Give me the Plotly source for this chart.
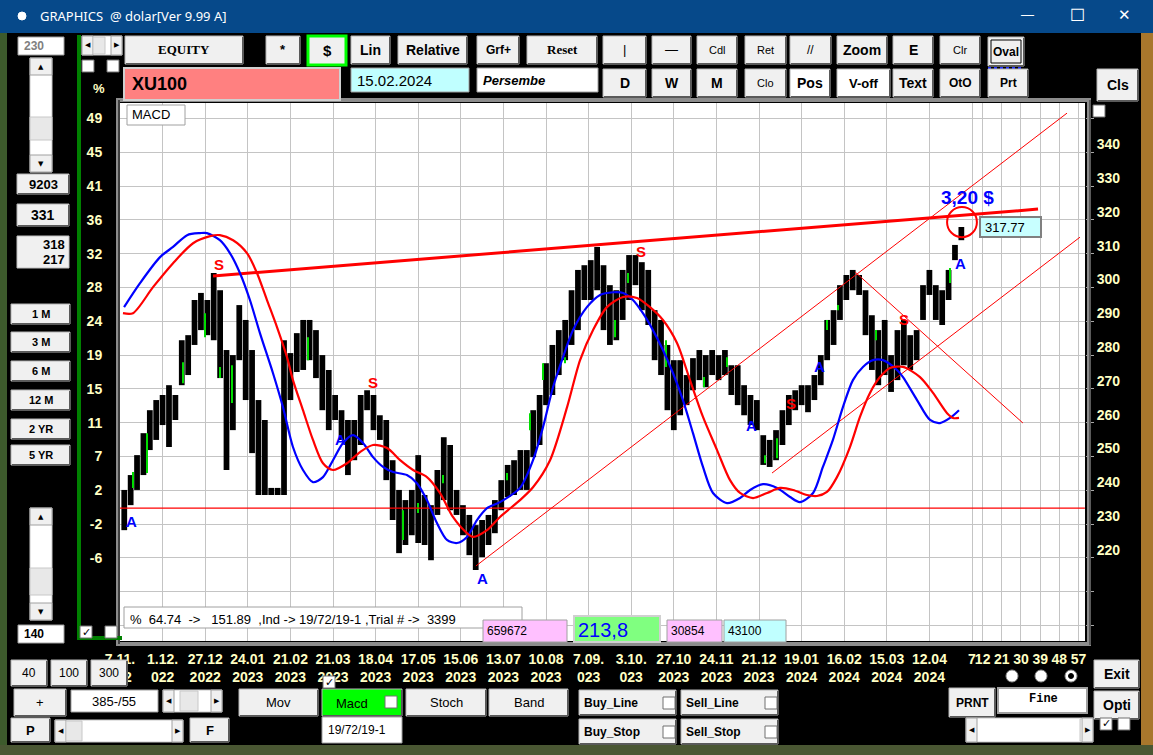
import plotly.graph_objects as go

# ---------------- data ----------------
# sampled price bars (every 3rd trading bar), high / low in index points
bar_high = [240.1, 244.5, 250.4, 256.9, 263.7, 266.7, 268.2, 271.1, 268.2, 284.4,
            285.9, 296.3, 298.4, 296.3, 304.3, 299.2, 281.5, 280.0, 294.8, 290.4,
            281.5, 266.7, 260.8, 240.7, 240.7, 284.4, 280.6, 286.5, 290.4, 290.4,
            287.4, 280.0, 275.6, 268.2, 263.7, 260.8, 260.8, 268.2, 269.6, 268.2,
            262.2, 260.8, 248.9, 240.1, 237.1, 240.1, 250.4, 238.6, 235.6, 246.0,
            255.7, 253.4, 240.1, 235.6, 232.7, 229.7, 231.2, 232.7, 237.1, 243.0,
            247.5, 248.9, 251.9, 251.9, 263.7, 268.2, 277.6, 283.0, 287.4, 290.4,
            299.2, 305.2, 306.6, 308.1, 312.0, 306.6, 300.7, 299.2, 305.2, 309.6,
            309.6, 307.5, 305.2, 293.3, 290.4, 283.0, 278.5, 278.5, 274.1, 279.1,
            281.5, 280.0, 281.5, 280.0, 281.5, 277.0, 277.0, 271.1, 268.2, 266.7,
            256.3, 254.9, 257.8, 263.7, 268.2, 269.6, 271.1, 271.1, 274.1, 280.0,
            290.4, 293.3, 300.7, 303.7, 305.2, 303.7, 299.2, 291.8, 287.4, 290.4,
            280.0, 287.4, 290.4, 285.9, 287.4, 300.7, 305.2, 300.7, 299.2, 305.2,
            312.6, 317.9]
bar_low = [228.2, 235.6, 240.1, 244.5, 251.9, 254.9, 259.3, 252.8, 260.8, 271.1,
           274.1, 283.0, 287.4, 285.9, 284.4, 273.2, 246.0, 257.8, 278.5, 266.7,
           251.0, 238.6, 238.6, 238.6, 238.6, 238.6, 266.7, 275.0, 275.6, 278.5,
           273.2, 263.7, 257.8, 260.8, 254.9, 244.5, 248.9, 253.4, 263.7, 257.8,
           254.9, 243.0, 231.2, 221.4, 223.8, 226.7, 224.4, 223.8, 219.3, 232.7,
           237.1, 234.1, 232.7, 226.7, 220.8, 216.4, 220.2, 223.8, 227.3, 234.1,
           238.0, 238.6, 240.1, 240.1, 249.8, 253.4, 265.2, 268.2, 274.1, 278.5,
           283.0, 287.4, 296.3, 296.3, 299.2, 287.4, 283.0, 284.4, 290.4, 296.3,
           300.7, 293.3, 288.9, 278.5, 274.1, 263.7, 257.8, 262.2, 265.2, 269.6,
           272.6, 270.5, 274.1, 272.6, 274.1, 268.2, 265.2, 262.2, 259.3, 257.8,
           247.5, 246.9, 248.9, 253.4, 259.3, 263.7, 265.2, 263.1, 266.7, 271.1,
           278.5, 283.0, 290.4, 296.3, 299.2, 297.8, 285.9, 275.6, 271.1, 274.1,
           269.1, 272.6, 277.0, 275.6, 278.5, 290.4, 297.8, 290.4, 288.9, 296.3,
           308.1, 314.0]
bar_index = [2 + 3 * k for k in range(len(bar_high))]

green_x = [6.1, 12.7, 29.6, 39.9, 46.9, 52.6, 88.3, 132.9, 139.9, 151.6, 181.7, 192.5,
           198.6, 208.9, 232.4, 238.5, 256.3, 274.2, 285.0, 302.8, 308.5, 331.9, 337.1,
           354.9, 389.7]
green_high = [245.4, 256.9, 277.9, 292.4, 276.5, 277.0, 285.3, 234.1, 236.2, 244.5, 245.1,
              262.8, 277.6, 279.4, 290.4, 304.3, 284.4, 273.5, 279.4, 250.4, 255.4, 290.4,
              294.8, 287.4, 305.8]
green_low = [240.7, 245.1, 271.7, 285.3, 273.2, 265.8, 278.5, 225.3, 233.3, 242.1, 243.0,
             257.8, 272.6, 277.6, 285.3, 301.3, 276.5, 270.5, 276.5, 248.0, 249.5, 287.4,
             293.3, 284.4, 301.3]

macd_x = [1.9, 9.4, 18.8, 24.9, 31.5, 37.6, 40.8, 46.9, 51.6, 56.3, 61.0, 65.7, 71.8, 76.5,
          81.2, 85.9, 90.6, 95.3, 100.0, 104.7, 109.4, 114.1, 118.8, 123.5, 128.2, 134.7,
          139.4, 144.1, 148.8, 153.5, 158.2, 162.9, 167.6, 172.3, 178.4, 187.8, 193.9,
          198.6, 203.3, 208.0, 212.7, 219.2, 225.4, 231.5, 236.2, 240.8, 245.5, 250.2,
          254.9, 259.6, 264.3, 269.0, 273.7, 278.4, 285.0, 291.1, 295.8, 301.9, 308.5,
          314.6, 319.2, 325.4, 330.0, 334.7, 339.4, 344.1, 348.8, 353.5, 358.2, 364.8,
          367.6, 374.2, 380.3, 385.0, 389.7, 393.9]
macd_y = [294.2, 301.3, 309.0, 312.0, 315.5, 316.1, 316.1, 314.0, 310.2, 304.3, 296.3,
          286.5, 274.7, 264.6, 252.8, 246.0, 242.4, 243.9, 248.9, 254.0, 256.3, 254.0,
          249.8, 246.9, 245.4, 244.5, 242.1, 237.1, 230.3, 225.3, 224.4, 226.2, 231.2,
          234.7, 236.5, 240.7, 248.9, 258.7, 270.5, 279.4, 287.4, 294.2, 297.8, 298.6,
          298.4, 296.3, 292.4, 287.4, 281.5, 274.7, 266.7, 256.9, 246.9, 239.2, 236.2,
          237.7, 240.1, 241.8, 240.7, 238.0, 236.5, 239.2, 246.9, 254.9, 264.6, 272.6,
          276.5, 278.5, 278.5, 275.6, 273.5, 266.7, 260.8, 259.9, 261.4, 263.7]

signal_x = [1.4, 6.1, 15.5, 24.9, 34.3, 42.3, 46.9, 53.1, 59.6, 64.3, 69.0, 73.7, 78.4,
            81.2, 85.9, 90.6, 95.3, 100.0, 106.6, 112.7, 118.8, 125.4, 131.5, 137.6,
            144.1, 150.2, 156.3, 162.9, 165.7, 172.3, 178.4, 187.8, 193.9, 201.9, 209.9,
            216.0, 222.1, 228.6, 236.2, 242.7, 248.8, 254.9, 261.5, 267.6, 273.7, 280.3,
            286.4, 291.1, 297.2, 303.8, 309.9, 316.0, 322.5, 327.2, 331.9, 336.6, 342.7,
            347.4, 352.1, 356.8, 361.5, 367.6, 375.6, 381.7, 388.3, 391.1, 393.9]
signal_y = [292.4, 292.4, 300.1, 307.2, 313.1, 315.2, 315.5, 314.0, 310.2, 304.3, 296.3,
            288.3, 279.4, 272.6, 263.7, 254.9, 248.0, 246.0, 248.0, 251.3, 253.4, 252.5,
            248.9, 246.0, 243.9, 239.2, 232.1, 227.3, 226.2, 228.2, 232.1, 237.1, 240.9,
            248.9, 264.6, 278.5, 287.4, 294.2, 297.2, 296.9, 294.2, 290.4, 283.6, 272.6,
            261.7, 251.9, 243.0, 239.2, 237.7, 239.2, 240.7, 240.1, 238.6, 238.3, 239.5,
            243.9, 252.8, 261.7, 268.8, 273.5, 276.2, 276.5, 273.5, 268.8, 262.8, 261.4,
            261.4]

# drawn trend lines (bar index, price)
resistance_x, resistance_y = [43.7, 431.0], [303.4, 323.2]
support_x, support_y = [0, 453], [234.7, 234.7]
channel_up_x, channel_up_y = [167.1, 444.6], [217.6, 351.6]
channel_lo_x, channel_lo_y = [306.1, 450.7], [245.1, 314.9]
down_x, down_y = [345.1, 423.9], [304.6, 259.9]

s_marks_x = [46.5, 118.8, 244.6, 315.0, 368.1]
s_marks_y = [306.9, 272.0, 310.8, 265.8, 290.4]
a_marks_x = [5.6, 103.3, 170.4, 296.7, 328.6, 394.8]
a_marks_y = [230.9, 254.9, 214.0, 259.3, 276.5, 307.2]

date_ticks = [0, 20, 40, 60, 80, 100, 120, 140, 160, 180, 200, 220, 240, 260, 280, 300,
              320, 340, 360, 380]
date_labels = ["7.11.<br>022", "1.12.<br>022", "27.12<br>2022", "24.01<br>2023",
               "21.02<br>2023", "21.03<br>2023", "18.04<br>2023", "17.05<br>2023",
               "15.06<br>2023", "13.07<br>2023", "10.08<br>2023", "7.09.<br>023",
               "3.10.<br>023", "27.10<br>2023", "24.11<br>2023", "21.12<br>2023",
               "19.01<br>2024", "16.02<br>2024", "15.03<br>2024", "12.04<br>2024"]
future_ticks = [400, 405, 414, 423, 432, 441, 450]
future_labels = ["7", "12", "21", "30", "39", "48", "57"]

price_grid = [200, 210, 220, 230, 240, 250, 260, 270, 280, 290, 300, 310, 320, 330, 340, 350]
price_labels = ["", "", "220", "230", "240", "250", "260", "270", "280", "290", "300",
                "310", "320", "330", "340", ""]
pct_labels = ["", "", "-6", "-2", "2", "7", "11", "15", "19", "24", "28", "32", "36",
              "41", "45", "49"]

last_price = "317.77"
target_text = "3,20 $"
target_x, target_y = 398.1, 326.5
circle_x0, circle_x1, circle_y0, circle_y1 = 388.3, 402.3, 314.9, 323.8

# ---------------- layout helpers ----------------
W, H = 1153, 755
ML, MR, MT, MB = 120, 68, 103, 114
PW, PH = W - ML - MR, H - MT - MB
SANS = "Liberation Sans"
SERIF = "Liberation Serif"
YEL = "#ffffc4"


def px(x):
    return (x - ML) / PW


def py(y):
    return (H - MB - y) / PH


shapes, annots = [], []


def R(x0, y0, x1, y1, fill=None, line=None, lw=1):
    shapes.append(dict(type="rect", xref="paper", yref="paper",
                       x0=px(x0), x1=px(x1), y0=py(y1), y1=py(y0),
                       fillcolor=fill or "rgba(0,0,0,0)",
                       line=dict(color=line or "rgba(0,0,0,0)", width=lw if line else 0)))


def L(x0, y0, x1, y1, color, lw=1, dash=None):
    d = dict(color=color, width=lw)
    if dash:
        d["dash"] = dash
    shapes.append(dict(type="line", xref="paper", yref="paper",
                       x0=px(x0), x1=px(x1), y0=py(y0), y1=py(y1), line=d))


def C(cx, cy, r, fill, line="#808080"):
    shapes.append(dict(type="circle", xref="paper", yref="paper",
                       x0=px(cx - r), x1=px(cx + r), y0=py(cy + r), y1=py(cy - r),
                       fillcolor=fill, line=dict(color=line, width=1)))


def T(x, y, text, size=13, color="black", bold=False, family=SANS, xanchor="center",
      italic=False):
    annots.append(dict(xref="paper", yref="paper", x=px(x), y=py(y), text=text,
                       showarrow=False, xanchor=xanchor, yanchor="middle",
                       font=dict(size=size, color=color, family=family,
                                 weight="bold" if bold else "normal",
                                 style="italic" if italic else "normal")))


def button(x0, y0, x1, y1, text, size=13, bold=True, family=SANS, fill="#f0f0f0",
           color="black"):
    R(x0, y0, x1, y1, fill, "#b4b4b4", 1)
    L(x0 + 1, y1, x1, y1, "#5a5a5a", 2)
    L(x1, y0 + 1, x1, y1, "#5a5a5a", 2)
    if text:
        T((x0 + x1) / 2, (y0 + y1) / 2, text, size, color, bold, family)


def checkbox(x0, y0, checked=False):
    R(x0, y0, x0 + 12, y0 + 12, "white", "#707070", 1)
    if checked:
        T(x0 + 6, y0 + 6, "✓", 11, "black", True, "DejaVu Sans")


def vscroll(x0, y0, x1, y1, t0, t1):
    R(x0, y0, x1, y1, "white", "#c8c8c8", 1)
    R(x0, y0, x1, y0 + 17, "#f0f0f0", "#a0a0a0", 1)
    T((x0 + x1) / 2, y0 + 9, "▲", 7, "black", False, "DejaVu Sans")
    R(x0, y1 - 17, x1, y1, "#f0f0f0", "#a0a0a0", 1)
    T((x0 + x1) / 2, y1 - 8, "▼", 7, "black", False, "DejaVu Sans")
    R(x0, t0, x1, t1, "#e8e8e8", "#c8c8c8", 1)


def hscroll(x0, y0, x1, y1, t0, t1):
    R(x0, y0, x1, y1, "white", "#c8c8c8", 1)
    R(x0, y0, x0 + 11, y1, "#f0f0f0", "#a0a0a0", 1)
    T(x0 + 6, (y0 + y1) / 2, "◀", 7, "black", False, "DejaVu Sans")
    R(x1 - 11, y0, x1, y1, "#f0f0f0", "#a0a0a0", 1)
    T(x1 - 5, (y0 + y1) / 2, "▶", 7, "black", False, "DejaVu Sans")
    R(t0, y0 + 1, t1, y1 - 1, "#e8e8e8", "#c8c8c8", 1)


# ---------------- window chrome ----------------
R(0, 0, 1153, 33, "#06498a")
C(22, 16, 4, "white", "white")
T(38, 16, "GRAPHICS\u00a0\u00a0@ dolar[Ver 9.99 A]", 13, "white", False, "Noto Sans", "left")
T(1027, 15, "—", 13, "white")
T(1077, 15, "☐", 17, "white", False, "DejaVu Sans")
T(1124, 15, "✕", 15, "white", False, "DejaVu Sans")
R(0, 33, 7, 755, "#3d5a2c")
R(1141, 33, 1153, 755, "#a8772c")
R(0, 745, 1153, 755, "#4a5733")

# plot frame
R(118, 100, 1089, 644, None, "#8c8c8c", 4)
L(119, 100, 119, 644, "#404040", 2)
L(1090, 100, 1090, 645, "#5a5a5a", 2)

# top row buttons
button(125, 36, 243, 64, "EQUITY", 13, True, SERIF)
button(266, 36, 300, 64, "*", 13)
R(308, 36, 346, 65, "#f0f0f0", "#00ff00", 3)
T(327, 51, "$", 15, bold=True)
button(351, 36, 390, 64, "Lin", 14)
button(398, 36, 467, 64, "Relative", 14)
button(477, 36, 519, 64, "Grf+", 12)
button(527, 36, 597, 64, "Reset", 13, True, SERIF)
button(603, 36, 646, 64, "|", 13, False)
button(652, 36, 691, 64, "—", 13, False)
button(697, 36, 737, 64, "Cdl", 11, False)
button(745, 36, 786, 64, "Ret", 11, False)
button(790, 36, 831, 64, "//", 12, False)
button(837, 36, 887, 64, "Zoom", 14)
button(893, 36, 933, 64, "E", 14)
button(940, 36, 980, 64, "Clr", 11, False)
button(988, 37, 1024, 66, "Oval", 12)
R(991, 40, 1021, 63, None, "#000000", 1)
L(988, 68, 1024, 68, "#2030ff", 2, "dot")

# second row
R(124, 68, 340, 100, "#ff8080", "#d0d0d0", 2)
T(130, 84, "XU100", 18, "black", True, SANS, "left")
R(351, 68, 469, 92, "#c0ffff", "#a0a0a0", 1)
T(355, 80, "15.02.2024", 15, "black", False, SANS, "left")
R(477, 68, 598, 92, "white", "#a0a0a0", 1)
T(481, 80, "Persembe", 13, "black", True, SANS, "left", italic=True)
button(603, 69, 646, 97, "D", 14)
button(652, 69, 691, 97, "W", 14)
button(697, 69, 737, 97, "M", 14)
button(745, 69, 786, 97, "Clo", 11, False)
button(790, 69, 830, 97, "Pos", 14, fill="white")
button(837, 69, 890, 97, "V-off", 13, fill="white")
button(893, 69, 933, 97, "Text", 14)
button(940, 69, 980, 97, "OtO", 12)
button(988, 69, 1028, 97, "Prt", 12)
button(1097, 69, 1138, 101, "Cls", 14)
checkbox(1093, 105)

# left panel
R(18, 37, 64, 55, "white", "#a0a0a0", 1)
T(22, 46, "230", 12, "#808080", True, SANS, "left")
vscroll(30, 58, 52, 172, 117, 140)
button(17, 174, 69, 194, "9203", 13)
button(17, 204, 69, 226, "331", 14)
R(17, 236, 69, 268, "#f0f0f0", "#c0c0c0", 1)
T(67, 245, "318", 13, "black", True, SANS, "right")
T(67, 259, "217", 13, "black", True, SANS, "right")
for y0, lab in [(304, "1 M"), (332, "3 M"), (361, "6 M"), (390, "12 M"), (419, "2 YR"),
                (445, "5 YR")]:
    button(11, y0, 70, y0 + 20, lab, 11)
vscroll(30, 508, 52, 620, 568, 595)
R(18, 625, 64, 643, "white", "#a0a0a0", 1)
T(22, 634, "140", 12, "black", True, SANS, "left")
L(79, 35, 79, 640, "#008000", 4)
L(77, 638, 122, 638, "#008000", 4)
hscroll(82, 36, 122, 55, 93, 105)
checkbox(82, 60)
checkbox(107, 60)
T(99, 88, "%", 13, YEL, True)
checkbox(80, 626, True)
checkbox(105, 626)

# info strip inside the chart
R(127, 105, 185, 125, "white", "#a0a0a0", 1)
T(130, 115, "MACD", 13, "black", False, SANS, "left")
R(124, 607, 522, 628, "white", "#a0a0a0", 1)
T(128, 619, "%\u00a0\u00a064.74\u00a0\u00a0->\u00a0\u00a0\u00a0151.89\u00a0\u00a0,Ind -> 19/72/19-1 ,Trial # ->\u00a0\u00a03399",
  13, "black", False, SANS, "left")
R(483, 620, 567, 642, "#ffc0ff", "#a0a0a0", 1)
T(485, 631, "659672", 12, "black", False, SANS, "left")
R(574, 616, 660, 642, "#80ff80", "#d0d0d0", 2)
T(576, 630, "213,8", 20, "#0000ff", False, SANS, "left")
R(667, 620, 722, 642, "#ffc0ff", "#a0a0a0", 1)
T(669, 631, "30854", 12, "black", False, SANS, "left")
R(724, 620, 786, 642, "#c0ffff", "#a0a0a0", 1)
T(726, 631, "43100", 12, "black", False, SANS, "left")
R(980, 217, 1041, 237, "#c8ffff", "#808080", 2)
T(983, 227, last_price, 13, "black", False, SANS, "left")

# bottom controls
button(11, 660, 47, 686, "40", 12, False)
button(51, 660, 87, 686, "100", 12, False)
button(91, 660, 127, 686, "300", 12, False)
button(14, 689, 66, 716, "+", 13, False)
R(71, 690, 158, 712, "white", "#a0a0a0", 1)
T(114, 701, "385-/55", 13, "black", False, SANS)
hscroll(163, 690, 222, 712, 180, 198)
button(11, 718, 50, 742, "P", 13)
hscroll(55, 720, 183, 742, 66, 82)
button(190, 718, 229, 742, "F", 13)
button(239, 689, 318, 716, "Mov", 13, False)
button(322, 689, 402, 716, "", fill="#00ff00")
T(352, 703, "Macd", 13, "black", False, SANS)
checkbox(385, 696)
button(406, 689, 486, 716, "Stoch", 13, False)
button(489, 689, 568, 716, "Band", 13, False)
checkbox(323, 676, True)
R(322, 717, 402, 743, "white", "#a0a0a0", 1)
T(326, 730, "19/72/19-1", 12, "black", False, SANS, "left")
for x0, y0, lab in [(579, 690, "Buy_Line"), (681, 690, "Sell_Line"),
                    (579, 719, "Buy_Stop"), (681, 719, "Sell_Stop")]:
    button(x0, y0, x0 + 97, y0 + 25, "")
    T(x0 + 3, y0 + 13, lab, 12, "black", True, SANS, "left")
    checkbox(x0 + 84, y0 + 7)
button(949, 688, 995, 717, "PRNT", 12)
R(998, 688, 1087, 713, "white", "#a0a0a0", 2)
T(1043, 699, "Fine", 12, "black", True, "Liberation Mono")
C(1012, 676, 6, "white", "#909090")
C(1041, 676, 6, "white", "#909090")
C(1071, 676, 6, "white", "#909090")
C(1071, 676, 2.5, "black", "black")
button(1094, 660, 1139, 688, "Exit", 14)
button(1094, 691, 1139, 719, "Opti", 14)
hscroll(966, 718, 1093, 742, 1080, 1082)
checkbox(1100, 718, True)
checkbox(1118, 718)

# ---------------- traces ----------------
fig = go.Figure()
fig.add_trace(go.Bar(x=bar_index, y=[h - l for h, l in zip(bar_high, bar_low)], base=bar_low,
                     width=2.7, marker=dict(color="black", line=dict(width=0)),
                     hoverinfo="skip"))
fig.add_trace(go.Bar(x=green_x, y=[h - l for h, l in zip(green_high, green_low)],
                     base=green_low, width=0.8,
                     marker=dict(color="#00dd00", line=dict(width=0)), hoverinfo="skip"))
for xs, ys, col, w in [(support_x, support_y, "#ff0000", 1.2),
                       (channel_up_x, channel_up_y, "#ff0000", 1),
                       (channel_lo_x, channel_lo_y, "#ff0000", 1),
                       (down_x, down_y, "#ff0000", 1),
                       (resistance_x, resistance_y, "#ff0000", 3)]:
    fig.add_trace(go.Scatter(x=xs, y=ys, mode="lines", line=dict(color=col, width=w),
                             hoverinfo="skip"))
fig.add_trace(go.Scatter(x=macd_x, y=macd_y, mode="lines",
                         line=dict(color="#0000ff", width=2.2, shape="spline", smoothing=0.8),
                         hoverinfo="skip"))
fig.add_trace(go.Scatter(x=signal_x, y=signal_y, mode="lines",
                         line=dict(color="#ff0000", width=2.2, shape="spline", smoothing=0.8),
                         hoverinfo="skip"))
fig.add_trace(go.Scatter(x=[0], y=[price_grid[0]], yaxis="y2", mode="markers",
                         marker=dict(opacity=0), hoverinfo="skip"))

for xx, yy in zip(s_marks_x, s_marks_y):
    annots.append(dict(x=xx, y=yy, xref="x", yref="y", text="S", showarrow=False,
                       font=dict(color="#ff0000", size=15, family=SANS, weight="bold")))
for xx, yy in zip(a_marks_x, a_marks_y):
    annots.append(dict(x=xx, y=yy, xref="x", yref="y", text="A", showarrow=False,
                       font=dict(color="#0000ff", size=15, family=SANS, weight="bold")))
annots.append(dict(x=target_x, y=target_y, xref="x", yref="y", text=target_text,
                   showarrow=False, font=dict(color="#0000ff", size=19, family=SANS,
                                              weight="bold")))
shapes.append(dict(type="circle", xref="x", yref="y", x0=circle_x0, x1=circle_x1,
                   y0=circle_y0, y1=circle_y1, line=dict(color="#ff0000", width=2)))

tickfont = dict(size=14, color=YEL, family=SANS, weight="bold")
fig.update_layout(
    width=W, height=H, margin=dict(l=ML, r=MR, t=MT, b=MB, pad=0),
    paper_bgcolor="black", plot_bgcolor="white", showlegend=False,
    barmode="overlay", hovermode=False,
    xaxis=dict(range=[0, 453.05], tickvals=date_ticks + future_ticks,
               ticktext=date_labels + future_labels, tickangle=0,
               showgrid=True, gridcolor="#c4c4c4", gridwidth=1, zeroline=False,
               ticks="outside", ticklen=5, tickcolor="black", tickfont=tickfont,
               showline=False, fixedrange=True),
    yaxis=dict(side="right", range=[195.4, 354.6], tickvals=price_grid,
               ticktext=price_labels, showgrid=True, gridcolor="#c4c4c4", gridwidth=1,
               zeroline=False, ticks="outside", ticklen=8, tickcolor="#a8a8a8",
               tickfont=tickfont, ticklabelshift=-8, showline=False, fixedrange=True),
    yaxis2=dict(overlaying="y", side="left", range=[195.4, 354.6], tickvals=price_grid,
                ticktext=pct_labels, showgrid=False, zeroline=False, ticks="outside",
                ticklen=14, tickcolor="black", tickfont=tickfont, showline=False,
                fixedrange=True),
    shapes=shapes, annotations=annots,
)

fig.write_html("out.html", config={"displayModeBar": False},
               post_script="document.body.style.margin='0';document.body.style.background='black';")
